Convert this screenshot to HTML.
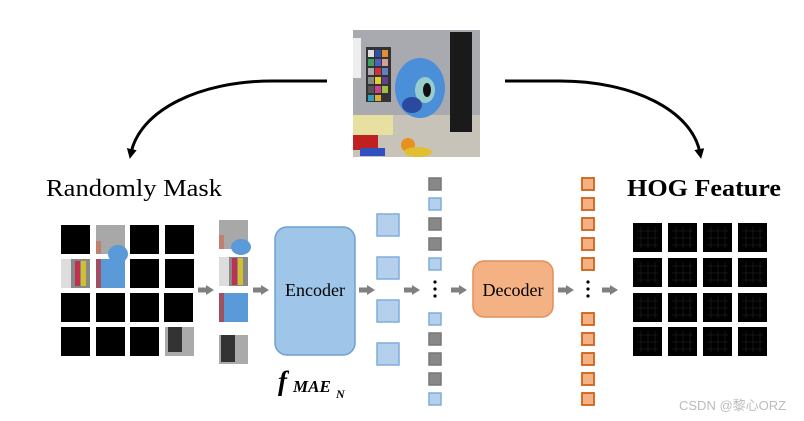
<!DOCTYPE html>
<html><head><meta charset="utf-8"><style>
body{margin:0;background:#fff;width:804px;height:421px;overflow:hidden}
svg{display:block}
text{font-family:"Liberation Serif",serif}
</style></head><body>
<svg width="804" height="421" viewBox="0 0 804 421">
<defs>
<marker id="ah" markerWidth="10" markerHeight="10" refX="4" refY="5" orient="auto" markerUnits="userSpaceOnUse"><path d="M0,0 L10,5 L0,10 z" fill="#000"/></marker>
<g id="ga"><rect x="0" y="-2.5" width="9" height="5" fill="#808080"/><path d="M8,-5 L16,0 L8,5z" fill="#808080"/></g>
<g id="hog">
<rect width="29" height="29" fill="#000"/>
<path d="M4,8 h21 M4,15 h21 M4,22 h21 M8,4 v21 M15,4 v21 M22,4 v21" stroke="#1c1c1c" stroke-width="0.8"/>
</g>
</defs>
<!-- curves -->
<path d="M327,81 L272,81 C200,81 140,110 131,153" fill="none" stroke="#000" stroke-width="3" marker-end="url(#ah)"/>
<path d="M505,81 L560,81 C632,81 692,110 700,153" fill="none" stroke="#000" stroke-width="3" marker-end="url(#ah)"/>
<!-- photo -->
<g>
<rect x="353" y="30" width="127" height="127" fill="#a9a9b0"/>
<rect x="353" y="115" width="127" height="42" fill="#c8c3b8"/>
<rect x="366" y="47" width="25" height="55" fill="#333"/>
<rect x="368" y="50" width="6" height="7" fill="#ddd"/><rect x="375" y="50" width="6" height="7" fill="#3050b0"/><rect x="382" y="50" width="6" height="7" fill="#e09030"/>
<rect x="368" y="59" width="6" height="7" fill="#40a060"/><rect x="375" y="59" width="6" height="7" fill="#5060c0"/><rect x="382" y="59" width="6" height="7" fill="#d0a0a0"/>
<rect x="368" y="68" width="6" height="7" fill="#aaa"/><rect x="375" y="68" width="6" height="7" fill="#d03040"/><rect x="382" y="68" width="6" height="7" fill="#6080c0"/>
<rect x="368" y="77" width="6" height="7" fill="#888"/><rect x="375" y="77" width="6" height="7" fill="#e0d030"/><rect x="382" y="77" width="6" height="7" fill="#604090"/>
<rect x="368" y="86" width="6" height="7" fill="#555"/><rect x="375" y="86" width="6" height="7" fill="#d04090"/><rect x="382" y="86" width="6" height="7" fill="#a0c040"/>
<rect x="368" y="95" width="6" height="6" fill="#30a0c0"/><rect x="375" y="95" width="6" height="6" fill="#e0b030"/>
<rect x="450" y="32" width="22" height="100" fill="#1a1a1a"/>
<ellipse cx="420" cy="88" rx="25" ry="30" fill="#4a8fd8"/>
<ellipse cx="425" cy="90" rx="10" ry="13" fill="#9cc"/><ellipse cx="427" cy="90" rx="4" ry="7" fill="#111"/>
<ellipse cx="412" cy="105" rx="10" ry="8" fill="#2a4aa0"/>
<rect x="353" y="115" width="40" height="20" fill="#e8e0a0"/>
<circle cx="408" cy="145" r="7" fill="#e89020"/>
<ellipse cx="418" cy="152" rx="14" ry="5" fill="#e0c030"/>
<rect x="353" y="135" width="25" height="15" fill="#c02020"/>
<rect x="360" y="148" width="25" height="8" fill="#3050c0"/>
<rect x="353" y="38" width="8" height="40" fill="#eee"/>
</g>
<text x="46" y="196" font-size="24" textLength="176" lengthAdjust="spacingAndGlyphs">Randomly Mask</text>
<text x="627" y="196" font-size="24" font-weight="bold" textLength="154" lengthAdjust="spacingAndGlyphs">HOG Feature</text>
<!-- left grid -->
<g fill="#000">
<rect x="61" y="225" width="29" height="29"/><rect x="130" y="225" width="29" height="29"/><rect x="165" y="225" width="29" height="29"/>
<rect x="130" y="259" width="29" height="29"/><rect x="165" y="259" width="29" height="29"/>
<rect x="61" y="293" width="29" height="29"/><rect x="96" y="293" width="29" height="29"/><rect x="130" y="293" width="29" height="29"/><rect x="164" y="293" width="29" height="29"/>
<rect x="61" y="327" width="29" height="29"/><rect x="96" y="327" width="29" height="29"/><rect x="130" y="327" width="29" height="29"/>
</g>
<g>
<rect x="96" y="225" width="29" height="29" fill="#a8a8a8"/><rect x="96" y="241" width="5" height="13" fill="#c08070"/><ellipse cx="118" cy="254" rx="10" ry="9" fill="#5a9ad8"/>
<rect x="61" y="259" width="29" height="29" fill="#888"/><rect x="61" y="259" width="10" height="29" fill="#ddd"/><rect x="75" y="261" width="5" height="25" fill="#c03050"/><rect x="81" y="261" width="5" height="25" fill="#d0c030"/>
<rect x="96" y="259" width="29" height="29" fill="#5a9ad8"/><rect x="96" y="259" width="5" height="29" fill="#a05060"/>
<rect x="165" y="327" width="29" height="29" fill="#aaa"/><rect x="168" y="327" width="14" height="25" fill="#333"/>
</g>
<!-- selected column -->
<g>
<rect x="219" y="220" width="29" height="29" fill="#a8a8a8"/><rect x="219" y="235" width="5" height="14" fill="#c08070"/><ellipse cx="241" cy="247" rx="10" ry="8" fill="#5a9ad8"/>
<rect x="219" y="257" width="29" height="29" fill="#888"/><rect x="219" y="257" width="10" height="29" fill="#ddd"/><rect x="232" y="258" width="5" height="27" fill="#c03050"/><rect x="238" y="258" width="5" height="27" fill="#d0c030"/>
<rect x="219" y="293" width="29" height="29" fill="#5a9ad8"/><rect x="219" y="293" width="5" height="29" fill="#a05060"/>
<rect x="219" y="335" width="29" height="29" fill="#aaa"/><rect x="221" y="335" width="14" height="27" fill="#333"/>
</g>
<!-- arrows -->
<use href="#ga" x="198" y="290"/><use href="#ga" x="253" y="290"/><use href="#ga" x="359" y="290"/>
<use href="#ga" x="404" y="290"/><use href="#ga" x="451" y="290"/><use href="#ga" x="558" y="290"/><use href="#ga" x="602" y="290"/>
<!-- encoder -->
<rect x="275" y="227" width="80" height="128" rx="12" fill="#9fc5e8" stroke="#6fa0d0" stroke-width="1.5"/>
<text x="315" y="296" font-size="18" text-anchor="middle">Encoder</text>
<text x="278" y="390" font-size="27" font-weight="bold" font-style="italic">f</text>
<text x="293" y="392" font-size="17" font-weight="bold" font-style="italic">MAE</text>
<text x="336" y="398" font-size="12" font-weight="bold" font-style="italic">N</text>
<!-- blue squares -->
<g fill="#b4d0ec" stroke="#7eaedc" stroke-width="1.5">
<rect x="377" y="214" width="22" height="22"/><rect x="377" y="257" width="22" height="22"/><rect x="377" y="300" width="22" height="22"/><rect x="377" y="343" width="22" height="22"/>
</g>
<!-- token column -->
<g stroke-width="1.5">
<rect x="429" y="178" width="12" height="12" fill="#888" stroke="#777"/>
<rect x="429" y="198" width="12" height="12" fill="#b4d0ec" stroke="#7eaedc"/>
<rect x="429" y="218" width="12" height="12" fill="#888" stroke="#777"/>
<rect x="429" y="238" width="12" height="12" fill="#888" stroke="#777"/>
<rect x="429" y="258" width="12" height="12" fill="#b4d0ec" stroke="#7eaedc"/>
<rect x="429" y="313" width="12" height="12" fill="#b4d0ec" stroke="#7eaedc"/>
<rect x="429" y="333" width="12" height="12" fill="#888" stroke="#777"/>
<rect x="429" y="353" width="12" height="12" fill="#888" stroke="#777"/>
<rect x="429" y="373" width="12" height="12" fill="#888" stroke="#777"/>
<rect x="429" y="393" width="12" height="12" fill="#b4d0ec" stroke="#7eaedc"/>
</g>
<g fill="#000"><circle cx="435" cy="282" r="1.6"/><circle cx="435" cy="289" r="1.6"/><circle cx="435" cy="296" r="1.6"/>
<circle cx="588" cy="282" r="1.6"/><circle cx="588" cy="289" r="1.6"/><circle cx="588" cy="296" r="1.6"/></g>
<!-- decoder -->
<rect x="473" y="261" width="80" height="56" rx="11" fill="#f4b183" stroke="#e0905a" stroke-width="1.5"/>
<text x="513" y="296" font-size="18" text-anchor="middle">Decoder</text>
<!-- orange column -->
<g fill="#f4b183" stroke="#d0601a" stroke-width="1.8">
<rect x="582" y="178" width="12" height="12"/><rect x="582" y="198" width="12" height="12"/><rect x="582" y="218" width="12" height="12"/><rect x="582" y="238" width="12" height="12"/><rect x="582" y="258" width="12" height="12"/>
<rect x="582" y="313" width="12" height="12"/><rect x="582" y="333" width="12" height="12"/><rect x="582" y="353" width="12" height="12"/><rect x="582" y="373" width="12" height="12"/><rect x="582" y="393" width="12" height="12"/>
</g>
<!-- HOG grid -->
<g>
<use href="#hog" x="633" y="223"/><use href="#hog" x="668" y="223"/><use href="#hog" x="703" y="223"/><use href="#hog" x="738" y="223"/>
<use href="#hog" x="633" y="258"/><use href="#hog" x="668" y="258"/><use href="#hog" x="703" y="258"/><use href="#hog" x="738" y="258"/>
<use href="#hog" x="633" y="293"/><use href="#hog" x="668" y="293"/><use href="#hog" x="703" y="293"/><use href="#hog" x="738" y="293"/>
<use href="#hog" x="633" y="327"/><use href="#hog" x="668" y="327"/><use href="#hog" x="703" y="327"/><use href="#hog" x="738" y="327"/>
</g>
<text x="679" y="410" font-size="13" fill="#bbb" style="font-family:'Liberation Sans','Noto Sans CJK SC',sans-serif">CSDN @黎心ORZ</text>
</svg>
</body></html>
